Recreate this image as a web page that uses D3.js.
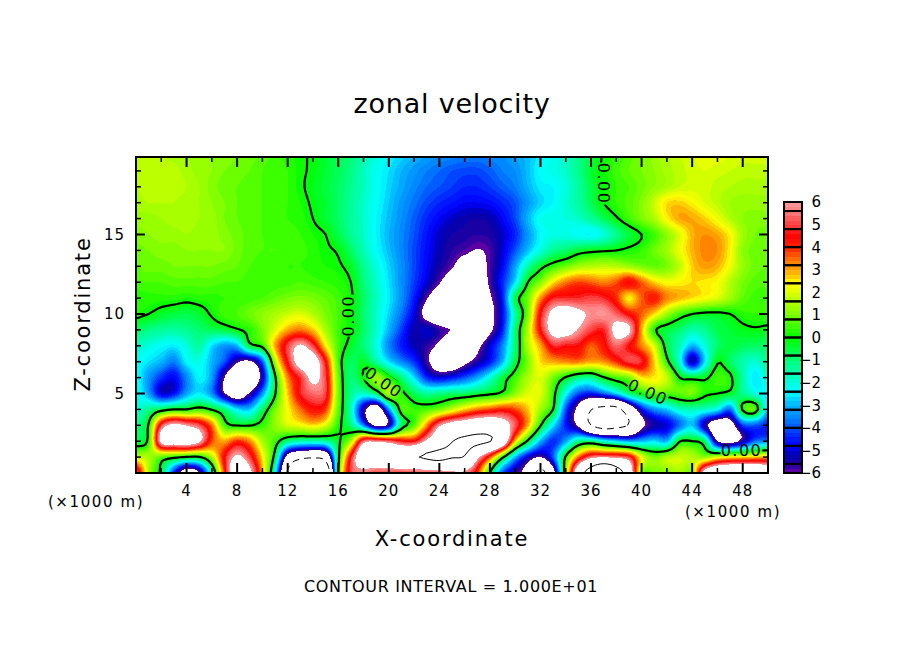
<!DOCTYPE html>
<html>
<head>
<meta charset="utf-8">
<script src="https://d3js.org/d3.v7.min.js"></script>
<style>
  body { margin: 0; background: #fff; }
  text { font-family: "DejaVu Sans", sans-serif; fill: #000; }
</style>
</head>
<body>
<svg id="chart" width="904" height="654"></svg>
<script>
// datos: zonal velocity, one row per km, z=20 first, x=0..50 km
var zonalVelocity = [
  [1.7,1.7,1.6,1.5,1.4,1.3,1.2,1.1,1.0,0.9, 0.7,0.5,0.3,0.1,-0.1,-0.4,-0.7,-1.0,-1.5,-2.0, -2.4,-2.7,-3.0,-3.2,-3.4,-3.5,-3.6,-3.6,-3.5,-3.4, -3.2,-2.9,-2.5,-2.2,-1.8,-1.2,-0.6,0.1,0.4,0.7, 1.0,1.3,1.6,1.8,2.0,2.1,2.1,2.0,1.9,1.9, 1.9],
  [1.7,1.7,1.7,1.7,1.5,1.3,1.2,1.0,0.9,0.8, 0.6,0.5,0.4,0.1,-0.1,-0.4,-0.7,-1.1,-1.7,-2.2, -2.6,-3.0,-3.3,-3.6,-3.8,-4.0,-4.1,-4.1,-3.9,-3.6, -3.4,-2.9,-2.3,-2.1,-1.8,-1.2,-0.4,0.1,0.5,0.8, 1.0,1.2,1.5,1.7,1.9,2.0,1.9,1.8,1.7,1.7, 1.7],
  [1.6,1.7,1.7,1.7,1.6,1.4,1.1,0.9,0.8,0.7, 0.6,0.5,0.4,0.1,-0.2,-0.5,-0.8,-1.2,-1.7,-2.2, -2.7,-3.1,-3.5,-3.8,-4.0,-4.2,-4.4,-4.4,-4.2,-3.9, -3.6,-3.0,-2.5,-2.4,-2.0,-1.4,-0.6,0.0,0.4,0.6, 0.9,1.2,1.5,1.8,1.9,1.9,1.7,1.6,1.5,1.5, 1.5],
  [1.5,1.6,1.6,1.6,1.5,1.4,1.2,1.0,0.8,0.7, 0.6,0.5,0.4,0.2,-0.1,-0.4,-0.8,-1.3,-1.8,-2.3, -2.8,-3.3,-3.7,-4.1,-4.4,-4.6,-4.8,-4.8,-4.7,-4.4, -4.0,-3.3,-2.7,-2.4,-1.9,-1.4,-0.7,0.0,0.4,0.7, 1.1,1.8,2.6,2.7,2.4,2.0,1.7,1.4,1.3,1.3, 1.3],
  [1.3,1.3,1.4,1.5,1.5,1.4,1.3,1.0,0.8,0.7, 0.6,0.5,0.4,0.3,0.0,-0.4,-0.8,-1.3,-1.8,-2.4, -2.9,-3.4,-3.9,-4.4,-4.8,-5.1,-5.3,-5.4,-5.3,-4.8, -4.1,-3.0,-2.2,-2.1,-2.0,-1.8,-1.3,-0.7,-0.1,0.5, 1.0,1.5,2.4,3.0,3.0,2.7,2.2,1.6,1.2,1.1, 1.1],
  [1.1,1.2,1.3,1.3,1.4,1.3,1.3,1.1,0.9,0.7, 0.6,0.5,0.5,0.4,0.2,0.0,-0.6,-1.2,-1.8,-2.4, -3.0,-3.5,-4.0,-4.6,-5.1,-5.4,-5.5,-5.6,-5.5,-5.1, -4.4,-3.3,-2.4,-2.1,-2.1,-2.3,-2.4,-2.0,-1.2,-0.5, 0.0,0.5,1.2,2.0,2.9,3.2,3.0,2.4,1.4,1.0, 0.9],
  [0.9,1.0,1.1,1.1,1.2,1.2,1.2,1.2,0.9,0.7, 0.6,0.6,0.5,0.5,0.3,0.1,-0.1,-0.8,-1.6,-2.3, -2.9,-3.5,-4.1,-4.7,-5.2,-5.6,-5.8,-6.05,-5.8,-5.0, -4.0,-2.9,-2.0,-1.2,-0.9,-0.4,-0.2,-0.1,0.0,0.2, 0.4,0.9,1.4,2.2,2.9,3.3,3.2,2.4,1.2,0.9, 0.8],
  [0.8,0.9,0.9,1.0,1.0,1.0,1.0,0.9,0.8,0.6, 0.5,0.5,0.4,0.4,0.3,0.2,0.1,-0.3,-1.2,-2.0, -2.7,-3.4,-4.1,-4.8,-5.4,-5.9,-6.6,-6.5,-5.8,-4.8, -3.2,-1.5,-0.3,0.4,0.9,1.4,1.6,1.7,1.6,1.3, 1.0,0.8,1.0,1.7,2.7,3.1,2.9,2.2,1.3,0.9, 0.8],
  [0.6,0.6,0.6,0.7,0.7,0.7,0.7,0.6,0.6,0.5, 0.5,0.5,0.5,0.6,0.5,0.4,0.3,0.0,-1.0,-1.8, -2.6,-3.4,-4.2,-5.0,-5.9,-6.8,-7.2,-7.0,-5.8,-4.4, -2.6,0.0,1.1,2.5,3.4,3.8,3.6,3.3,3.7,4.5, 3.6,2.7,2.3,2.4,2.6,2.5,2.3,1.6,1.0,0.7, 0.7],
  [0.2,0.3,0.3,0.3,0.2,0.3,0.3,0.4,0.4,0.5, 0.6,0.8,1.0,1.1,1.0,0.8,0.5,0.1,-0.8,-1.7, -2.5,-3.4,-4.5,-5.9,-7.0,-7.6,-7.8,-7.4,-6.2,-4.6, -0.6,0.9,3.2,4.7,4.8,4.8,5.0,4.8,4.0,2.4, 3.6,4.2,3.3,2.9,2.6,2.3,2.0,1.4,0.8,0.5, 0.4],
  [0.2,0.0,-0.3,-0.5,-0.6,-0.4,0.1,0.5,0.6,0.9, 1.2,1.5,1.8,2.0,1.6,1.0,0.6,0.0,-0.9,-1.8, -2.7,-3.7,-4.9,-6.6,-7.6,-8.2,-8.2,-7.6,-6.5,-4.8, -1.5,1.0,4.5,6.5,7.0,6.4,5.8,5.9,5.3,4.4, 3.6,2.6,1.4,0.5,0.0,-0.2,-0.2,0.0,0.3,0.4, 0.4],
  [-0.8,-1.1,-1.3,-1.4,-1.2,-0.9,-0.7,-0.5,-0.1,0.3, 1.0,2.0,3.0,3.4,2.8,1.5,0.5,0.0,-0.8,-1.8, -3.0,-4.2,-5.3,-5.0,-5.6,-6.1,-7.6,-7.6,-6.3,-4.5, -1.0,1.6,4.5,6.6,6.8,5.9,5.0,4.7,6.5,6.3, 3.0,0.2,-0.5,-0.9,-1.5,-1.2,-0.6,-0.4,-0.2,-0.1, -0.2],
  [-1.7,-2.0,-2.3,-2.5,-2.0,-1.4,-2.6,-3.3,-3.0,-0.4, 0.3,3.0,5.0,6.2,5.0,2.5,0.6,-0.3,-1.0,-2.0, -3.5,-4.5,-5.2,-5.6,-6.3,-7.8,-7.8,-6.4,-5.0,-3.5, -1.0,1.6,3.0,4.8,4.6,4.5,3.6,4.3,5.4,4.5, 3.3,2.0,-0.5,-1.6,-3.0,-2.0,-0.9,-0.5,-0.7,-0.8, -0.8],
  [-2.2,-2.6,-3.0,-3.6,-2.4,-2.1,-3.0,-4.0,-5.8,-6.3, -4.0,1.5,4.6,6.8,7.0,4.5,0.6,-0.8,-0.3,-1.4, -2.6,-3.5,-4.3,-5.7,-7.0,-7.4,-6.4,-5.5,-4.6,-3.0, -0.5,1.0,2.6,3.0,3.3,3.4,3.0,3.2,4.0,5.0, 4.8,2.7,0.3,-1.9,-5.4,-2.6,-0.1,-0.8,-1.5,-1.9, -1.2],
  [-2.2,-3.3,-4.3,-4.8,-3.5,-2.4,-3.2,-6.0,-8.2,-8.0, -5.3,-0.2,3.3,4.8,6.4,5.0,0.9,-1.0,0.0,1.4, 0.2,-1.0,-2.6,-4.4,-5.0,-4.6,-4.0,-3.2,-2.0,-0.5, 0.5,1.5,2.0,1.0,-0.1,-1.0,-1.2,-0.1,0.6,1.0, 2.5,2.5,1.8,0.0,-0.3,-0.2,0.5,0.2,-1.4,-2.6, -1.8],
  [-2.0,-3.2,-5.0,-4.7,-3.2,-2.5,-3.4,-5.9,-7.5,-5.8, -3.4,-0.1,2.7,4.7,5.4,5.0,1.0,-1.2,-1.8,-0.8, 1.5,0.3,-0.7,-1.3,-1.1,-0.9,-0.8,-0.5,-0.2,0.2, 1.2,2.0,2.0,0.4,-2.2,-4.0,-4.5,-3.8,-2.7,-1.0, 0.0,0.8,0.6,0.8,1.0,0.2,0.0,-0.3,-1.2,-2.0, -2.5],
  [-2.0,-1.2,-0.5,0.0,0.0,0.5,-0.1,-1.0,-2.5,-2.8, -0.8,1.0,2.3,3.5,4.3,3.9,0.8,-1.6,-5.4,-7.5, -3.4,0.5,0.4,0.6,1.0,1.8,2.7,3.4,3.8,4.2, 3.8,2.8,1.4,0.0,-4.0,-6.6,-9.9,-11,-11,-8.0, -4.8,-3.4,-2.8,-1.8,-1.6,-1.8,-2.3,-3.8,0.2,0.6, -3.0],
  [-1.2,0.1,5.0,6.4,5.9,5.2,3.5,0.5,-0.05,-0.05, 0.4,1.2,1.9,2.2,2.6,2.0,0.3,-1.0,-3.5,-6.5, -5.5,-0.8,0.7,3.2,5.8,7.0,7.5,8.0,8.0,7.0, 5.2,3.0,0.1,-2.5,-4.5,-6.3,-10,-11.5,-11,-9.8, -6.5,-5.4,-5.0,-3.8,-2.8,-5.4,-7.5,-7.0,-4.2,-4.0, -4.5],
  [-0.6,0.3,6.5,7.0,7.2,6.3,3.8,3.0,4.0,3.3, 1.5,0.5,-1.0,-1.5,-1.6,-1.4,-0.2,1.5,5.5,5.8, 5.4,4.6,4.5,6.3,8.0,9.9,10.6,10.6,10.1,8.0, 2.8,-0.2,-3.0,-4.4,-3.2,-1.2,-1.0,-2.0,-2.6,-3.2, -3.0,-2.6,-3.0,-0.1,0.0,-0.8,-6.0,-6.8,-5.5,-3.8, -3.5],
  [1.8,1.5,0.7,0.3,-0.1,-0.1,1.5,4.5,6.3,5.0, 2.5,-0.5,-7.0,-9.0,-9.5,-8.5,-0.4,4.6,7.6,8.0, 8.5,9.0,9.7,10.4,10.8,10.2,9.8,6.5,3.8,0.3, -3.0,-5.0,-6.0,-4.0,0.2,3.5,5.5,5.8,5.6,5.0, 2.2,1.0,1.6,1.8,1.6,1.2,2.0,2.4,2.6,2.8, 3.0],
  [5.5,1.5,-0.3,-4.5,-7.5,-6.2,-1.5,4.0,8.0,6.5, 3.0,-2.0,-10.5,-16,-18,-14,0.0,5.0,5.5,5.0, 5.0,5.0,5.0,5.0,5.2,5.6,5.6,4.0,0.0,-4.0, -5.5,-7.0,-11,-7.0,1.0,8.0,12,15,12,8.0, 1.2,1.0,1.1,1.5,1.4,7.0,8.5,9.0,9.0,9.0, 8.5]
];
var xTicks = [4, 8, 12, 16, 20, 24, 28, 32, 36, 40, 44, 48];
var xMinorTicks = [2, 6, 10, 14, 18, 22, 26, 30, 34, 38, 42, 46];
var zTicks = [5, 10, 15];
var barTicks = [-6, -5, -4, -3, -2, -1, 0, 1, 2, 3, 4, 5, 6];
var barBoxes = [-6, -5.6, -4.8, -4, -3.2, -2.4, -1.6, -0.8, 0, 0.8, 1.6, 2.4, 3.2, 4, 4.8, 5.6, 6];
var stopValues = [-6, -5.6, -5.2, -4.8, -4.4, -4, -3.6, -3.2, -2.8, -2.4, -2, -1.6, -1.2, -0.8, -0.4, 0, 0.4, 0.8, 1.2, 1.6, 2, 2.4, 2.8, 3.2, 3.6, 4, 4.6, 4.8, 5.2, 5.6, 6];
var stopColors = ["#7000a8", "#2000a0", "#0000b0", "#0000ff", "#0020ff", "#0050ff", "#0080ff", "#00a0ff", "#00c8ff", "#00ffff", "#00ffe0", "#00ffb0", "#00ff90", "#00ff60", "#00ff30", "#00ff00", "#30ff00", "#60ff00", "#90ff00", "#b0ff00", "#e0ff00", "#ffff00", "#ffc000", "#ff9000", "#ff6000", "#ff2000", "#ff0000", "#ff3030", "#ff5050", "#ff8080", "#ff9a9a"];
var contourLabels = [
  { x: 37.0, z: 18.2, angle: 90 },
  { x: 16.8, z: 9.9, angle: -90 },
  { x: 19.6, z: 5.7, angle: 35 },
  { x: 40.5, z: 5.1, angle: 24 },
  { x: 47.9, z: 1.45, angle: 0 }
];

var nx = zonalVelocity[0].length,
    nz = zonalVelocity.length;
zonalVelocity.forEach(function (r, i) {
  if (r.length !== nx) throw new Error("row " + i + " has " + r.length);
});

// drawing only: catmull-rom between the grid values so the contours are not faceted
var fine = 4;
function cubic(a, b, c, d, t) {
  return b + 0.5 * t * (c - a + t * (2 * a - 5 * b + 4 * c - d + t * (3 * (b - c) + d - a)));
}
function at(j, i) {
  return zonalVelocity[Math.max(0, Math.min(nz - 1, j))][Math.max(0, Math.min(nx - 1, i))];
}
var fx = (nx - 1) * fine + 1,
    fz = (nz - 1) * fine + 1,
    values = new Array(fx * fz);
for (var fj = 0; fj < fz; fj++) {
  var j0 = Math.min(nz - 2, Math.floor(fj / fine)), tj = fj / fine - j0;
  for (var fi = 0; fi < fx; fi++) {
    var i0 = Math.min(nx - 2, Math.floor(fi / fine)), ti = fi / fine - i0;
    var col = [-1, 0, 1, 2].map(function (dj) {
      return cubic(at(j0 + dj, i0 - 1), at(j0 + dj, i0), at(j0 + dj, i0 + 1), at(j0 + dj, i0 + 2), ti);
    });
    values[fj * fx + fi] = cubic(col[0], col[1], col[2], col[3], tj);
  }
}

// escalas
var x = d3.scaleLinear().domain([0, 50]).range([136, 768]);
var z = d3.scaleLinear().domain([0, 5]).range([473, 393.5]);
var colour = d3.scaleLinear().domain(stopValues).range(stopColors);
var barY = d3.scaleLinear().domain([-6, 6]).range([473, 202]);

var svg = d3.select("#chart");

svg.append("clipPath").attr("id", "plot-clip")
  .append("rect")
  .attr("x", x(0)).attr("y", 157)
  .attr("width", x(50) - x(0)).attr("height", 473 - 157);

// contour cell (i+0.5, j+0.5) holds x=i/fine km, z=20-j/fine km
var path = d3.geoPath(d3.geoTransform({
  point: function (cx, cy) {
    this.stream.point(x((cx - 0.5) / fine), z(20 - (cy - 0.5) / fine));
  }
}));
var contours = d3.contours().size([fx, fz]).smooth(true);

// rellenos, de abajo a arriba; lo que queda fuera de -6..6 es blanco
var bands = d3.range(0, 60).map(function (i) { return -6 + i * 0.2; });
var fills = svg.append("g").attr("clip-path", "url(#plot-clip)")
  .attr("shape-rendering", "crispEdges");

fills.selectAll("path")
  .data(bands)
  .enter().append("path")
  .attr("d", function (t) { return path(contours.contour(values, t)); })
  .attr("fill", function (t) { return colour(t + 0.1); });

fills.append("path")
  .attr("d", path(contours.contour(values, 6)))
  .attr("fill", "#fff");

// gaps in the zero line where the labels sit
var mask = svg.append("mask").attr("id", "label-gaps").attr("maskUnits", "userSpaceOnUse")
  .attr("x", 0).attr("y", 0).attr("width", 904).attr("height", 654);
mask.append("rect").attr("width", 904).attr("height", 654).attr("fill", "#fff");
mask.selectAll("rect.gap")
  .data(contourLabels)
  .enter().append("rect")
  .attr("class", "gap")
  .attr("x", -21).attr("y", -9).attr("width", 42).attr("height", 18)
  .attr("fill", "#000")
  .attr("transform", function (d) {
    return "translate(" + x(d.x) + "," + z(d.z) + ") rotate(" + d.angle + ")";
  });

var lines = svg.append("g").attr("clip-path", "url(#plot-clip)").attr("fill", "none").attr("stroke", "#000");

lines.append("g").attr("mask", "url(#label-gaps)")
  .append("path")
  .attr("d", path(contours.contour(values, 0)))
  .attr("stroke-width", 2.2);

// +10 solid, -10 dashed (contour interval 10)
lines.append("path")
  .attr("d", path(contours.contour(values, 10)))
  .attr("stroke-width", 1);

lines.append("path")
  .attr("d", path(contours.contour(values, -10)))
  .attr("stroke-width", 1)
  .attr("stroke-dasharray", "7 5");

svg.selectAll("text.clabel")
  .data(contourLabels)
  .enter().append("text")
  .attr("class", "clabel")
  .attr("transform", function (d) {
    return "translate(" + x(d.x) + "," + z(d.z) + ") rotate(" + d.angle + ")";
  })
  .attr("dy", ".36em")
  .style("text-anchor", "middle")
  .style("font-size", "16px")
  .style("letter-spacing", "1.5px")
  .text("0.00");

// ejes
function tickLines(data, w, x1, y1, x2, y2) {
  svg.append("g").selectAll("line")
    .data(data)
    .enter().append("line")
    .attr("x1", x1).attr("y1", y1).attr("x2", x2).attr("y2", y2)
    .attr("stroke", "#000")
    .attr("stroke-width", w);
}
function px(d) { return x(d); }
function pz(d) { return z(d); }
tickLines(xTicks, 2, px, 473, px, 463);
tickLines(xTicks, 2, px, 157, px, 167);
tickLines(xMinorTicks, 1.5, px, 473, px, 468);
tickLines(xMinorTicks, 1.5, px, 157, px, 162);

var zMinor = d3.range(1, 20).filter(function (d) { return d % 5 !== 0; });
tickLines(zTicks, 2, 136, pz, 145, pz);
tickLines(zTicks, 2, 768, pz, 759, pz);
tickLines(zMinor, 1.5, 136, pz, 141, pz);
tickLines(zMinor, 1.5, 768, pz, 763, pz);

svg.append("rect")
  .attr("x", 136).attr("y", 157).attr("width", 632).attr("height", 316)
  .attr("fill", "none").attr("stroke", "#000").attr("stroke-width", 2);

svg.append("g").selectAll("text")
  .data(xTicks)
  .enter().append("text")
  .attr("x", px)
  .attr("y", 496)
  .style("text-anchor", "middle")
  .style("font-size", "15px")
  .style("letter-spacing", "1px")
  .text(function (d) { return d; });

svg.append("g").selectAll("text")
  .data(zTicks)
  .enter().append("text")
  .attr("x", 125)
  .attr("y", pz)
  .attr("dy", ".36em")
  .style("text-anchor", "end")
  .style("font-size", "15px")
  .style("letter-spacing", "1px")
  .text(function (d) { return d; });

// barra de color
svg.append("g").attr("shape-rendering", "crispEdges").selectAll("rect")
  .data(bands)
  .enter().append("rect")
  .attr("x", 784)
  .attr("width", 18)
  .attr("y", function (d) { return barY(d + 0.2); })
  .attr("height", barY(0) - barY(0.2) + 0.5)
  .attr("fill", function (d) { return colour(d + 0.1); });

svg.append("g").selectAll("rect")
  .data(d3.pairs(barBoxes))
  .enter().append("rect")
  .attr("x", 784)
  .attr("width", 18)
  .attr("y", function (d) { return barY(d[1]); })
  .attr("height", function (d) { return barY(d[0]) - barY(d[1]); })
  .attr("fill", "none")
  .attr("stroke", "#000")
  .attr("stroke-width", 2);

svg.append("g").selectAll("text")
  .data(barTicks)
  .enter().append("text")
  .attr("x", 821)
  .attr("y", barY)
  .attr("dy", ".36em")
  .style("text-anchor", "end")
  .style("font-size", "15px")
  .text(function (d) { return d3.format("d")(d); });

// titulos
function label(txt, lx, ly, size, spacing, angle) {
  svg.append("text")
    .attr("transform", "translate(" + lx + "," + ly + ") rotate(" + (angle || 0) + ")")
    .style("text-anchor", "middle")
    .style("font-size", size + "px")
    .style("letter-spacing", spacing + "px")
    .text(txt);
}
label("zonal velocity", 452, 113, 27, 0.8);
label("X-coordinate", 452, 546, 21, 1.8);
label("Z-coordinate", 90, 314, 21, 1.8, -90);
label("(\u00d71000 m)", 96, 507, 15, 1.6);
label("(\u00d71000 m)", 733, 517, 15, 1.6);
label("CONTOUR INTERVAL = 1.000E+01", 451, 592, 16, 0.65);
</script>
</body>
</html>
